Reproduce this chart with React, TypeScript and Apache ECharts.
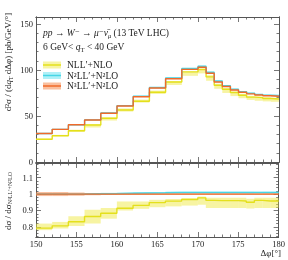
import React, { useEffect, useRef } from "react";
import * as echarts from "echarts";

// Bin edges (Δφ in degrees)
const binEdges = [150, 152, 154, 156, 158, 160, 162, 164, 166, 168, 170, 171, 172, 173, 174, 175, 176, 177, 178, 179, 180];

// Main panel: d²σ/(dqT dΔφ) [pb/GeV/°]
const nllValues = [24.7, 28.6, 34, 40.2, 47.5, 56.5, 66, 75.8, 87, 98, 100.5, 92.5, 83.5, 79, 75.5, 72.5, 70.5, 70, 69, 68.5];
const n2llValues = [31, 35.5, 40.5, 45.8, 53.2, 61.3, 71.5, 81, 91.4, 101.7, 104, 97.5, 88, 82.8, 79, 76.5, 74.7, 73.5, 72.7, 72.2];
const n3llValues = [31, 35.5, 40.5, 45.6, 53, 60.9, 71, 80.4, 90.5, 100.7, 103, 96.5, 87, 82, 78.3, 75.8, 74, 72.8, 72, 71.5];

// Ratio panel: dσ / dσ(N³LL'+N²LO)
const nllRatio = [0.792, 0.806, 0.831, 0.863, 0.883, 0.914, 0.931, 0.948, 0.957, 0.967, 0.977, 0.962, 0.96, 0.96, 0.96, 0.958, 0.95, 0.962, 0.958, 0.958];
const nllRatioLow = [0.78, 0.79, 0.805, 0.82, 0.85, 0.9, 0.91, 0.92, 0.925, 0.93, 0.935, 0.915, 0.915, 0.915, 0.915, 0.915, 0.912, 0.915, 0.915, 0.915];
const nllRatioHigh = [0.82, 0.83, 0.865, 0.905, 0.915, 0.955, 0.955, 0.965, 0.97, 0.975, 0.985, 0.978, 0.978, 0.978, 0.978, 0.978, 0.972, 0.978, 0.978, 0.978];
const n2llRatio = [1, 1, 1, 1.002, 1.003, 1.005, 1.007, 1.008, 1.01, 1.01, 1.01, 1.01, 1.01, 1.01, 1.01, 1.01, 1.01, 1.01, 1.01, 1.01];
const n2llRatioLow = [0.996, 0.996, 0.996, 0.998, 0.999, 1.0, 1.002, 1.003, 1.005, 1.005, 1.005, 1.005, 1.005, 1.005, 1.005, 1.005, 1.005, 1.005, 1.005, 1.005];
const n2llRatioHigh = [1.004, 1.004, 1.004, 1.006, 1.008, 1.01, 1.012, 1.013, 1.015, 1.015, 1.015, 1.015, 1.015, 1.015, 1.015, 1.015, 1.015, 1.015, 1.015, 1.015];
const n3llRatio = [1, 1, 1, 1, 1, 1, 1, 1, 1, 1, 1, 1, 1, 1, 1, 1, 1, 1, 1, 1];
const n3llRatioLow = [0.988, 0.988, 0.99, 0.993, 0.995, 0.996, 0.996, 0.996, 0.996, 0.996, 0.996, 0.996, 0.996, 0.996, 0.996, 0.996, 0.996, 0.996, 0.996, 0.996];
const n3llRatioHigh = [1.013, 1.013, 1.01, 1.007, 1.005, 1.004, 1.004, 1.004, 1.004, 1.004, 1.004, 1.004, 1.004, 1.004, 1.004, 1.004, 1.004, 1.004, 1.004, 1.004];

// Ticks
const xMajorTicks = [150, 155, 160, 165, 170, 175, 180];
const xMinorTicks = [151, 152, 153, 154, 156, 157, 158, 159, 161, 162, 163, 164, 166, 167, 168, 169, 171, 172, 173, 174, 176, 177, 178, 179];
const mainYTicks = [0, 50, 100, 150];
const mainYMinor = [10, 20, 30, 40, 60, 70, 80, 90, 110, 120, 130, 140];
const ratioYTicks = [0.8, 0.9, 1, 1.1];
const ratioYMinor = [0.74, 0.76, 0.78, 0.82, 0.84, 0.86, 0.88, 0.92, 0.94, 0.96, 0.98, 1.02, 1.04, 1.06, 1.08, 1.12, 1.14, 1.16, 1.18];

const legendLabels = ["NLL′+NLO", "N²LL′+N²LO", "N³LL′+N²LO"];

const COLORS = {
  yellowLine: "#e4e01c",
  yellowBand: "rgba(240,234,70,0.5)",
  cyanLine: "#46d6e6",
  cyanBand: "rgba(110,228,240,0.55)",
  orangeLine: "#f06a2a",
  orangeBand: "rgba(246,128,62,0.5)",
  frame: "#555",
  text: "#222",
};

const FONT = "'Liberation Serif', 'DejaVu Serif', serif";

const MAIN_MIN = 0;
const MAIN_MAX = 157.6;
const RATIO_MIN = 0.738;
const RATIO_MAX = 1.19;

function stepPoints(values: number[]) {
  const pts: number[][] = [];
  values.forEach((v, i) => {
    pts.push([binEdges[i], v]);
    pts.push([binEdges[i + 1], v]);
  });
  return pts;
}

function bandSeries(lows: number[], highs: number[], color: string, xi: number, yi: number) {
  const data = lows.map((lo, i) => [binEdges[i], binEdges[i + 1], lo, highs[i]]);
  return {
    type: "custom",
    xAxisIndex: xi,
    yAxisIndex: yi,
    silent: true,
    clip: true,
    encode: { x: [0, 1], y: [2, 3] },
    data,
    renderItem: (params: any, api: any) => {
      const p1 = api.coord([api.value(0), api.value(3)]);
      const p2 = api.coord([api.value(1), api.value(2)]);
      return {
        type: "rect",
        shape: { x: p1[0], y: p1[1], width: p2[0] - p1[0], height: p2[1] - p1[1] },
        style: { fill: color },
      };
    },
  };
}

function lineSeries(values: number[], color: string, xi: number, yi: number) {
  return {
    type: "line",
    xAxisIndex: xi,
    yAxisIndex: yi,
    data: stepPoints(values),
    showSymbol: false,
    silent: true,
    lineStyle: { color, width: 1.4 },
    clip: true,
  };
}

function xAx(grid: number, pos: string, ticks: number[], len: number, labels: boolean) {
  return {
    type: "value",
    gridIndex: grid,
    position: pos,
    min: 150,
    max: 180,
    axisLine: { show: true, onZero: false, lineStyle: { color: COLORS.frame, width: 1 } },
    axisTick: { show: true, inside: true, length: len, customValues: ticks, lineStyle: { color: COLORS.frame, width: 0.8 } },
    axisLabel: labels
      ? { show: true, customValues: ticks, fontFamily: FONT, fontSize: 8.5, color: COLORS.text, margin: 2, formatter: (v: number) => String(v) }
      : { show: false },
    splitLine: { show: false },
  };
}

function yAx(grid: number, pos: string, min: number, max: number, ticks: number[], len: number, labels: boolean) {
  return {
    type: "value",
    gridIndex: grid,
    position: pos,
    min,
    max,
    axisLine: { show: true, onZero: false, lineStyle: { color: COLORS.frame, width: 1 } },
    axisTick: { show: true, inside: true, length: len, customValues: ticks, lineStyle: { color: COLORS.frame, width: 0.8 } },
    axisLabel: labels
      ? { show: true, customValues: ticks, fontFamily: FONT, fontSize: 8.5, color: COLORS.text, margin: 3, formatter: (v: number) => String(v) }
      : { show: false },
    splitLine: { show: false },
  };
}

export default function App() {
  const ref = useRef<HTMLDivElement>(null);

  useEffect(() => {
    if (!ref.current) return;
    const chart = echarts.init(ref.current, null, { renderer: "svg" });

    const mainBand = (lo: number[], hi: number[]) => [
      n3llValues.map((v, i) => v * lo[i]),
      n3llValues.map((v, i) => v * hi[i]),
    ];
    const [yLo, yHi] = mainBand(nllRatioLow, nllRatioHigh);
    const [cLo, cHi] = mainBand(n2llRatioLow, n2llRatioHigh);
    const [oLo, oHi] = mainBand(n3llRatioLow, n3llRatioHigh);

    const swatchColors = [
      [COLORS.yellowBand, COLORS.yellowLine],
      [COLORS.cyanBand, COLORS.cyanLine],
      [COLORS.orangeBand, COLORS.orangeLine],
    ];
    const legendY = [65, 75.5, 86];
    const legendGraphics: any[] = [];
    legendLabels.forEach((lab, i) => {
      legendGraphics.push({
        type: "rect",
        shape: { x: 43, y: legendY[i] - 3.5, width: 18, height: 7 },
        style: { fill: swatchColors[i][0] },
        silent: true,
      });
      legendGraphics.push({
        type: "line",
        shape: { x1: 43, y1: legendY[i], x2: 61, y2: legendY[i] },
        style: { stroke: swatchColors[i][1], lineWidth: 1.5 },
        silent: true,
      });
      legendGraphics.push({
        type: "text",
        x: 67,
        y: legendY[i],
        style: {
          text: lab,
          fontFamily: FONT,
          fontSize: 9.5,
          fill: COLORS.text,
          align: "left",
          verticalAlign: "middle",
          textAlign: "left",
          textVerticalAlign: "middle",
        },
        silent: true,
      });
    });

    const option: any = {
      animation: false,
      grid: [
        { left: 36, top: 17, width: 243, height: 145, containLabel: false },
        { left: 36, top: 163, width: 243, height: 74, containLabel: false },
      ],
      xAxis: [
        xAx(0, "bottom", xMajorTicks, 5, false),
        xAx(0, "bottom", xMinorTicks, 2.5, false),
        xAx(0, "top", xMajorTicks, 5, false),
        xAx(0, "top", xMinorTicks, 2.5, false),
        xAx(1, "bottom", xMajorTicks, 5, true),
        xAx(1, "bottom", xMinorTicks, 2.5, false),
        xAx(1, "top", xMajorTicks, 5, false),
        xAx(1, "top", xMinorTicks, 2.5, false),
      ],
      yAxis: [
        yAx(0, "left", MAIN_MIN, MAIN_MAX, mainYTicks, 5, true),
        yAx(0, "left", MAIN_MIN, MAIN_MAX, mainYMinor, 2.5, false),
        yAx(0, "right", MAIN_MIN, MAIN_MAX, mainYTicks, 5, false),
        yAx(0, "right", MAIN_MIN, MAIN_MAX, mainYMinor, 2.5, false),
        yAx(1, "left", RATIO_MIN, RATIO_MAX, ratioYTicks, 5, true),
        yAx(1, "left", RATIO_MIN, RATIO_MAX, ratioYMinor, 2.5, false),
        yAx(1, "right", RATIO_MIN, RATIO_MAX, ratioYTicks, 5, false),
        yAx(1, "right", RATIO_MIN, RATIO_MAX, ratioYMinor, 2.5, false),
      ],
      series: [
        bandSeries(yLo, yHi, COLORS.yellowBand, 0, 0),
        bandSeries(cLo, cHi, COLORS.cyanBand, 0, 0),
        bandSeries(oLo, oHi, COLORS.orangeBand, 0, 0),
        lineSeries(nllValues, COLORS.yellowLine, 0, 0),
        lineSeries(n2llValues, COLORS.cyanLine, 0, 0),
        lineSeries(n3llValues, COLORS.orangeLine, 0, 0),
        bandSeries(nllRatioLow, nllRatioHigh, COLORS.yellowBand, 4, 4),
        bandSeries(n2llRatioLow, n2llRatioHigh, COLORS.cyanBand, 4, 4),
        bandSeries(n3llRatioLow, n3llRatioHigh, COLORS.orangeBand, 4, 4),
        lineSeries(nllRatio, COLORS.yellowLine, 4, 4),
        lineSeries(n2llRatio, COLORS.cyanLine, 4, 4),
        lineSeries(n3llRatio, COLORS.orangeLine, 4, 4),
      ],
      graphic: [
        {
          type: "text",
          x: 43,
          y: 32.5,
          style: {
            text: "{i|pp} → {i|W}{s|⁻} → {i|μ}{s|⁻}{i|ν̄}{b|μ} (13 TeV LHC)",
            fontFamily: FONT,
            fontSize: 9.5,
            fill: COLORS.text,
            align: "left",
            verticalAlign: "middle",
            textAlign: "left",
            textVerticalAlign: "middle",
            rich: {
              i: { fontFamily: FONT, fontSize: 9.5, fontStyle: "italic", lineHeight: 12 },
              s: { fontFamily: FONT, fontSize: 9.5, lineHeight: 12 },
              b: { fontFamily: FONT, fontSize: 6.5, fontStyle: "italic", lineHeight: 7, verticalAlign: "bottom" },
            },
          },
          silent: true,
        },
        {
          type: "text",
          x: 43,
          y: 47,
          style: {
            text: "6 GeV< {i|q}{b|T} < 40 GeV",
            fontFamily: FONT,
            fontSize: 9.5,
            fill: COLORS.text,
            align: "left",
            verticalAlign: "middle",
            textAlign: "left",
            textVerticalAlign: "middle",
            rich: {
              i: { fontFamily: FONT, fontSize: 9.5, fontStyle: "italic", lineHeight: 12 },
              b: { fontFamily: FONT, fontSize: 6.5, lineHeight: 7, verticalAlign: "bottom" },
            },
          },
          silent: true,
        },
        ...legendGraphics,
        {
          type: "text",
          x: 8,
          y: 62,
          rotation: Math.PI / 2,
          style: {
            text: "d²σ / (d{i|q}{b|T} dΔφ) [pb/GeV/°]",
            fontFamily: FONT,
            fontSize: 9,
            fill: COLORS.text,
            align: "center",
            verticalAlign: "middle",
            textAlign: "center",
            textVerticalAlign: "middle",
            rich: {
              i: { fontFamily: FONT, fontSize: 9, fontStyle: "italic", lineHeight: 11 },
              b: { fontFamily: FONT, fontSize: 6, lineHeight: 6, verticalAlign: "bottom" },
            },
          },
          silent: true,
        },
        {
          type: "text",
          x: 8,
          y: 201,
          rotation: Math.PI / 2,
          style: {
            text: "dσ / dσ{b|N³LL′+N²LO}",
            fontFamily: FONT,
            fontSize: 9,
            fill: COLORS.text,
            align: "center",
            verticalAlign: "middle",
            textAlign: "center",
            textVerticalAlign: "middle",
            rich: {
              b: { fontFamily: FONT, fontSize: 6, lineHeight: 6, verticalAlign: "bottom" },
            },
          },
          silent: true,
        },
        {
          type: "text",
          x: 281,
          y: 253,
          style: {
            text: "Δφ[°]",
            fontFamily: FONT,
            fontSize: 9,
            fill: COLORS.text,
            align: "right",
            verticalAlign: "middle",
            textAlign: "right",
            textVerticalAlign: "middle",
          },
          silent: true,
        },
      ],
    };

    chart.setOption(option);
    return () => chart.dispose();
  }, []);

  return (
    <div
      ref={ref}
      style={{ position: "fixed", left: 0, top: 0, width: 288, height: 260 }}
    />
  );
}
